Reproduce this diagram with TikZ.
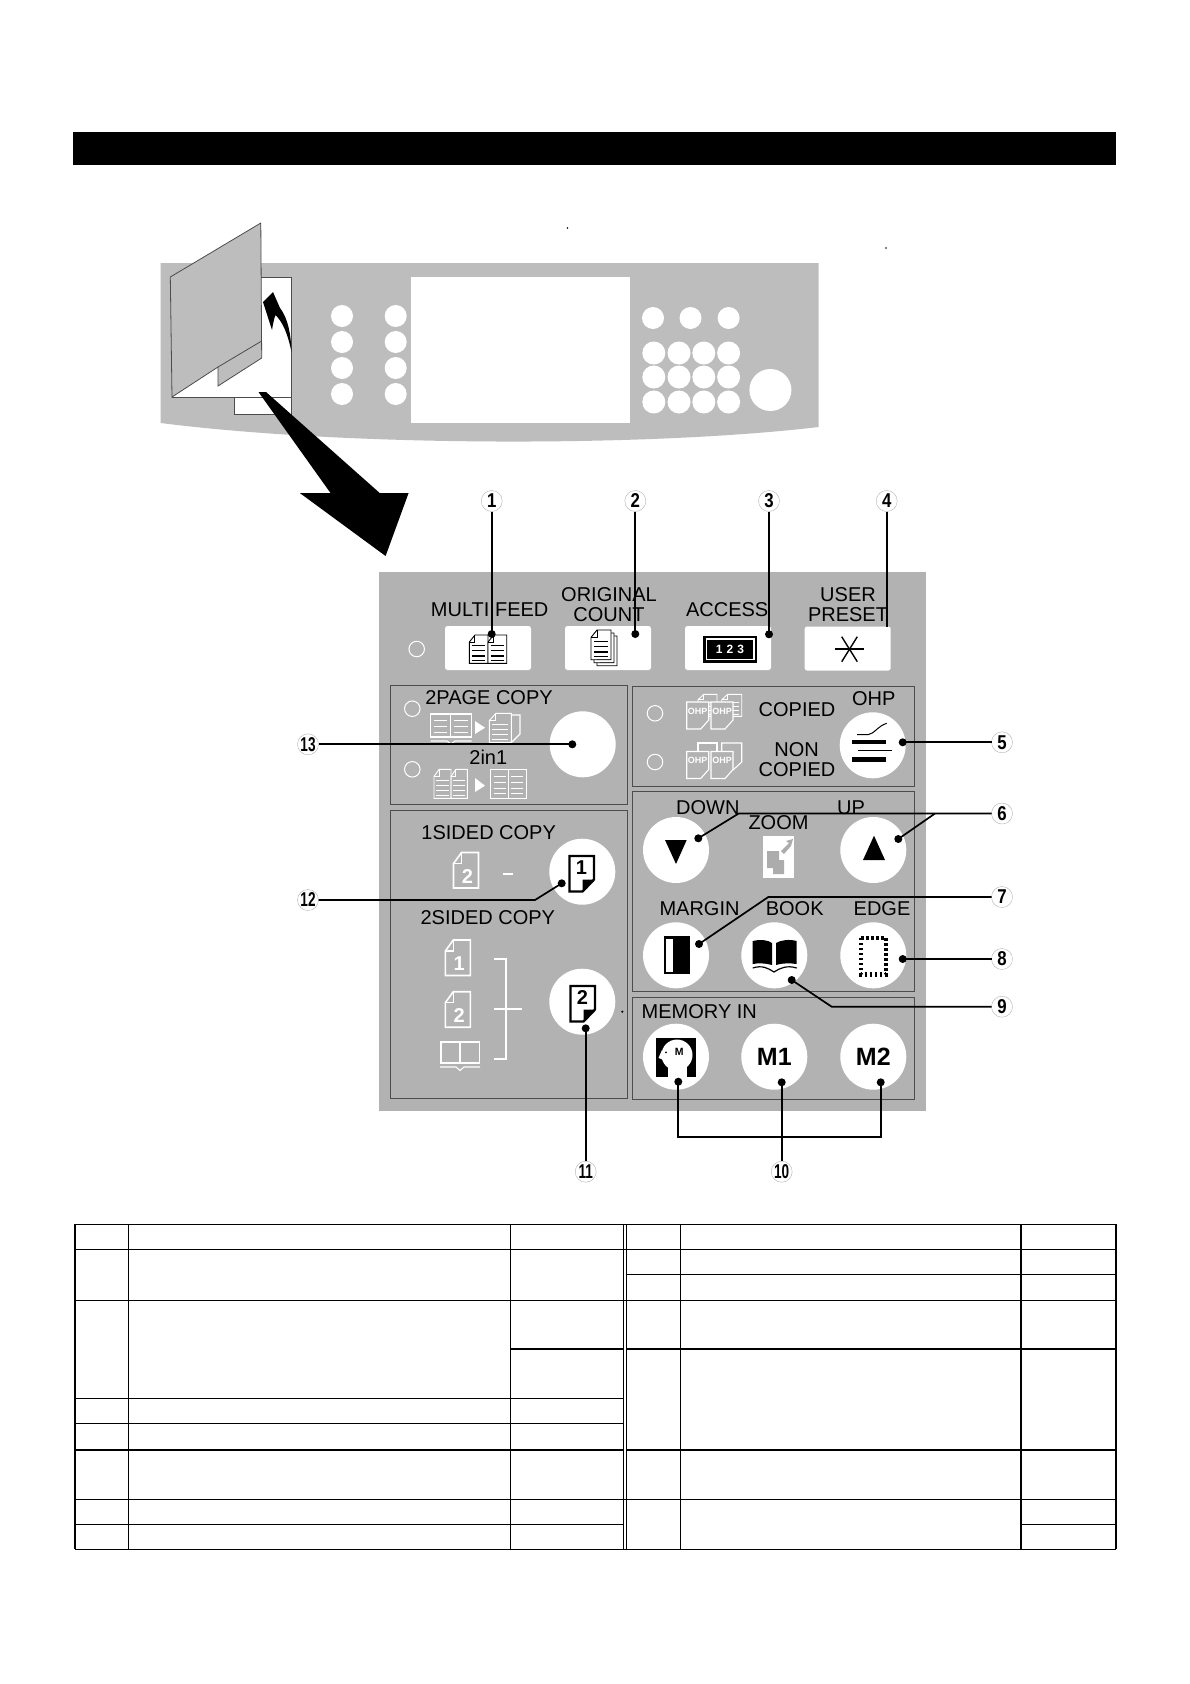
\documentclass[tikz,border=0pt]{standalone}
\usepackage{fontspec}
\setmainfont{Liberation Sans}
\usepackage{graphicx}
\usetikzlibrary{positioning}
\usetikzlibrary{shapes.geometric}
\definecolor{bandgray}{gray}{0.74}
\definecolor{panelgray}{gray}{0.70}
\definecolor{framegray}{gray}{0.30}
\newcommand{\squeezed}[1]{\scalebox{0.84}[1]{#1}}
\newcommand{\tightsqueezed}[1]{\scalebox{0.68}[1]{#1}}
\newcommand{\ruledsheet}[6]{
    \begin{scope}[shift={(#1,#2)}]
        \draw[#5, line width=0.9, fill=#6] (0.3*#3,0) -- (#3,0) -- (#3,#4) -- (0,#4) -- (0,0.25*#4) -- cycle;
        \draw[#5, line width=0.9] (0.3*#3,0) -- (0.3*#3,0.25*#4) -- (0,0.25*#4);
        \foreach \f in {0.38,0.56,0.74,0.9} {
            \draw[#5, line width=1.2] (0.14*#3,\f*#4) -- (0.86*#3,\f*#4);
        }
    \end{scope}
}
\newcommand{\numsheet}[4]{
    \begin{scope}[shift={(#2,#3)}]
        \draw[white, line width=1.6] (8,0) -- (25,0) -- (25,35.5) -- (0,35.5) -- (0,11) -- cycle;
        \draw[white, line width=1.2] (8,0) -- (8,11) -- (0,11);
        \node[sheetdigit, text=white] (#1) at (14,24) {#4};
    \end{scope}
}
\newcommand{\marksheet}[4]{
    \begin{scope}[shift={(#2,#3)}]
        \draw[black, line width=2.4, fill=white] (0,0) -- (24.5,0) -- (24.5,23.5) -- (13,35.5) -- (0,35.5) -- cycle;
        \fill[black] (24.5,23.5) -- (13,35.5) -- (13,23.5) -- cycle;
        \node[sheetdigit, text=black] (#1) at (12,12) {#4};
    \end{scope}
}
\newcommand{\ohpfront}[3]{
    \begin{scope}[shift={(#2,#3)}]
        \draw[white, line width=1.1, fill=panelgray] (0,0) -- (22,0) -- (22,18) -- (14,27) -- (0,27) -- cycle;
        \node[ohptext] (#1) at (11,9) {OHP};
    \end{scope}
}
\tikzset{
    holebtn/.style={ellipse, fill=white, inner sep=0, minimum width=22, minimum height=22},
    softkey/.style={fill=white, rounded corners=2.5, minimum width=86, minimum height=44, inner sep=0, outer sep=0},
    roundbtn/.style={circle, fill=white, minimum size=66, inner sep=0, outer sep=0},
    lamp/.style={circle, draw=white, line width=1, minimum size=15.5, inner sep=0},
    groupbox/.style={draw=framegray, line width=0.9},
    paneltext/.style={font=\fontsize{20}{20}\selectfont, inner sep=0, outer sep=0, anchor=base},
    sheetdigit/.style={font=\fontsize{20}{20}\selectfont\bfseries, inner sep=0},
    ohptext/.style={font=\fontsize{9}{9}\selectfont\bfseries, text=white, inner sep=0},
    memtext/.style={font=\fontsize{25}{25}\selectfont\bfseries, inner sep=0, outer sep=0},
    pindot/.style={circle, fill=black, minimum size=8, inner sep=0, outer sep=0},
    callout/.style={circle, draw=gray!60, line width=0.4, fill=white, minimum size=21, inner sep=0, outer sep=0, font=\fontsize{20}{20}\selectfont\bfseries},
    leader/.style={black, line width=1.7},
    ruling/.style={black, line width=1.1},
    heavyruling/.style={black, line width=2.2},
    thinruling/.style={black, line width=0.6}
}
\begin{document}
\begin{tikzpicture}[x=1pt, y=-1pt]
    \path[use as bounding box, fill=white] (0,0) rectangle (1190,1684);

    \fill[black] (73,132) rectangle (1116,165);

    \fill[bandgray] (160.7,263) -- (818.6,263) -- (818.6,427) .. controls (650,447) and (350,447) .. (160.7,423) -- cycle;
    \fill[white] (411,277) rectangle (630,422.7);
    \foreach \hx/\hn in {342/a,395.7/b} {
        \foreach \hy in {316,342,368,394} {
            \node[holebtn] (hole\hn\hy) at (\hx,\hy) {};
        }
    }
    \foreach \hx/\hn in {653/c,690.5/d,728.6/e} {
        \node[holebtn] (hole\hn) at (\hx,318) {};
    }
    \foreach \hx/\hn in {653.8/f,679/g,703.8/h,728.6/i} {
        \foreach \hy in {353,377,402} {
            \node[holebtn, minimum width=23, minimum height=23] (hole\hn\hy) at (\hx,\hy) {};
        }
    }
    \node[holebtn, minimum width=42, minimum height=42] (dial) at (770.4,390) {};

    \draw[framegray, line width=0.7, fill=white] (172,277) rectangle (291.5,397);
    \draw[framegray, line width=0.7, fill=white] (234,397) rectangle (291.5,414);
    \draw[framegray, line width=0.8, fill=bandgray] (170.3,277) -- (260.8,223) -- (261.7,358) -- (218,386) -- (218,367) -- (172,397) -- cycle;
    \draw[framegray, line width=0.8] (218,367) -- (261.7,341);
    \fill[black] (291.5,352) .. controls (291,335) and (288,318) .. (280,308) -- (273,292) -- (263,302) -- (272,330) .. controls (273,324) and (274,319) .. (275.4,315) .. controls (283,322) and (288,335) .. (291.5,352) -- cycle;
    \fill[black] (258.5,392) -- (266,392) -- (379.7,493) -- (408.6,493) -- (385.6,556) -- (299.8,493) -- (330.5,493) -- cycle;

    \fill[panelgray] (379,572) rectangle (926,1111);

    \node[lamp] (lampmulti) at (416.7,649) {};
    \node[softkey] (keymulti) at (488,648) {};
    \node[softkey] (keycount) at (608,648) {};
    \node[softkey] (keyaccess) at (728,648) {};
    \node[softkey] (keypreset) at (847.7,648.5) {};
    \node[paneltext] (txtmulti) at (489.7,616.7) {MULTI FEED};
    \node[paneltext] (txtorig) at (609,601) {ORIGINAL};
    \node[paneltext] (txtcount) at (609,621) {COUNT};
    \node[paneltext] (txtaccess) at (727.2,616.7) {ACCESS};
    \node[paneltext] (txtuser) at (848,601) {USER};
    \node[paneltext] (txtpreset) at (848,621) {PRESET};

    \ruledsheet{469.3}{635}{18.7}{28.3}{black}{white}
    \ruledsheet{488}{635}{18.7}{28.3}{black}{white}
    \ruledsheet{597}{636}{20}{29.7}{black}{white}
    \ruledsheet{594}{633}{20}{29.7}{black}{white}
    \ruledsheet{591}{630}{20}{29.7}{black}{white}
    \fill[black] (703.3,636) rectangle (757,662.7);
    \draw[white, line width=1.5] (706.5,639) rectangle (753.8,659.7);
    \node[font=\fontsize{12}{12}\selectfont\bfseries, text=white, inner sep=0] (txt123) at (730,649.5) {1\,\,2\,\,3};
    \draw[black, line width=1.4] (835,649) -- (864,649);
    \draw[black, line width=1.4] (841.7,636.7) -- (857.3,661.7);
    \draw[black, line width=1.4] (857.3,636.7) -- (841.7,661.7);

    \draw[groupbox] (390.7,685.3) rectangle (627.7,804.3);
    \draw[groupbox] (632.7,686) rectangle (914,786);
    \draw[groupbox] (632.7,791) rectangle (914,991.7);
    \draw[groupbox] (632.7,997.3) rectangle (914,1099);
    \draw[groupbox] (390.7,810) rectangle (627.3,1098.3);

    \node[paneltext] (txttwopage) at (489,704) {2PAGE COPY};
    \node[paneltext] (txttwoinone) at (488.3,764.3) {2in1};
    \node[lamp] (lamptwopage) at (412.3,708.7) {};
    \node[lamp] (lamptwoinone) at (412.3,769.3) {};
    \node[roundbtn] (btntwopage) at (582.7,744.3) {};

    \draw[white, line width=1.1] (430.7,714) rectangle (450.7,737);
    \draw[white, line width=1.1] (450.7,714) rectangle (471.7,737);
    \draw[white, line width=1.1] (430.7,741) -- (447,741) -- (451,744) -- (455,741) -- (471.7,741);
    \foreach \ry in {720,726,732} {
        \draw[white, line width=1] (434,\ry) -- (447,\ry);
        \draw[white, line width=1] (454,\ry) -- (468,\ry);
    }
    \fill[white] (475,721) -- (485,727.7) -- (475,734) -- cycle;
    \ruledsheet{489.3}{713.3}{22}{29}{white}{none}
    \draw[white, line width=1.1] (511.3,715) -- (520,715) -- (520,734) -- (512,742);
    \ruledsheet{434}{769.3}{17}{29}{white}{none}
    \ruledsheet{451}{769.3}{16.3}{29}{white}{none}
    \fill[white] (475,778) -- (485,785.7) -- (475,792) -- cycle;
    \draw[white, line width=1.1] (490.7,769.3) rectangle (526.7,798.3);
    \draw[white, line width=1.1] (508.7,769.3) -- (508.7,798.3);
    \foreach \ry in {776,782,788,793} {
        \draw[white, line width=1] (494,\ry) -- (506,\ry);
        \draw[white, line width=1] (511,\ry) -- (523,\ry);
    }

    \node[lamp] (lampcopied) at (655,713.3) {};
    \node[lamp] (lampnon) at (655,762) {};
    \ruledsheet{698}{694.3}{19}{22}{white}{none}
    \ruledsheet{721.7}{694.3}{20}{22}{white}{none}
    \ohpfront{ohpa}{686.7}{702}
    \ohpfront{ohpb}{711}{702}
    \draw[white, line width=1.1] (698,751) -- (698,743) -- (717,743) -- (717,760);
    \draw[white, line width=1.1] (721.7,751) -- (721.7,743) -- (741.7,743) -- (741.7,762) -- (733,770);
    \ohpfront{ohpc}{686.7}{751.5}
    \ohpfront{ohpd}{711}{751.5}
    \node[paneltext] (txtcopied) at (797,716.7) {COPIED};
    \node[paneltext] (txtnon) at (796.7,756.7) {NON};
    \node[paneltext] (txtnoncopied) at (797,776) {COPIED};
    \node[paneltext] (txtohp) at (873.8,705) {OHP};
    \node[roundbtn] (btnohp) at (872.7,745.3) {};
    \fill[black] (851.7,739.7) rectangle (886,743.7);
    \fill[black] (851.7,757) rectangle (886,761.5);
    \draw[black, line width=1] (858,750) -- (892,750);
    \draw[black, line width=1] (857,734.7) -- (868,734.7) .. controls (874,734) and (878,726) .. (886.7,723.3);

    \node[paneltext] (txtdown) at (707.8,814) {DOWN};
    \node[paneltext] (txtup) at (851,814) {UP};
    \node[paneltext] (txtzoom) at (778.5,829.3) {ZOOM};
    \node[roundbtn] (btndown) at (676,850) {};
    \node[roundbtn, right=131.3pt of btndown] (btnup) {};
    \fill[black] (665,840) -- (686.7,840) -- (676,864) -- cycle;
    \fill[black] (874,835.7) -- (885,860) -- (863,860) -- cycle;
    \fill[white] (763.3,836) rectangle (794.3,877.7);
    \fill[gray!65] (767,851) -- (779,851) -- (779,860) -- (784,860) -- (784,874) -- (773,874) -- (773,868) -- (767,868) -- cycle;
    \fill[gray!65] (781,851) -- (789,843) -- (786,841) -- (793,839) -- (791,846) -- (784,854) -- cycle;

    \node[paneltext] (txtmargin) at (699.5,915) {MARGIN};
    \node[paneltext] (txtbook) at (794.7,915) {BOOK};
    \node[paneltext] (txtedge) at (882,915) {EDGE};
    \node[roundbtn] (btnmargin) at (676,955.3) {};
    \node[roundbtn, right=32.3pt of btnmargin] (btnbook) {};
    \node[roundbtn, right=33pt of btnbook] (btnedge) {};
    \draw[black, line width=1, fill=black] (664,936.7) rectangle (689,973.3);
    \fill[white] (665.5,938.5) rectangle (672.7,971.5);
    \fill[black] (752.7,941) .. controls (760,939) and (768,940) .. (772,943) -- (772,965) .. controls (765,963) and (758,963) .. (752.7,964) -- cycle;
    \fill[black] (776,943) .. controls (781,940) and (789,939) .. (796.7,941) -- (796.7,964) .. controls (790,963) and (782,963) .. (776,965) -- cycle;
    \draw[black, line width=1.2] (752.7,968) .. controls (762,965) and (768,968) .. (774,972) .. controls (780,968) and (787,965) .. (796.7,968);
    \draw[black, line width=4.5, dash pattern=on 2.4pt off 2.6pt] (861.2,938) rectangle (886,974.5);

    \node[paneltext] (txtmemory) at (699.3,1018.3) {MEMORY IN};
    \node[roundbtn] (btnmem) at (676,1056.7) {};
    \node[roundbtn, right=32.3pt of btnmem] (btnmone) {};
    \node[roundbtn, right=33pt of btnmone] (btnmtwo) {};
    \fill[black] (656,1037.7) rectangle (696,1076.7);
    \fill[white] (677,1055) circle (15.5);
    \fill[white] (668,1062) rectangle (687,1078);
    \fill[white] (662,1050) -- (658.5,1058) -- (664,1060) -- cycle;
    \fill[black] (666,1052.3) circle (1);
    \node[font=\fontsize{10.5}{10.5}\selectfont\bfseries, inner sep=0] (txtmhead) at (679.3,1052) {M};
    \node[memtext] (txtmone) at (btnmone) {M1};
    \node[memtext] (txtmtwo) at (btnmtwo) {M2};

    \node[paneltext] (txtonesided) at (488.7,839.3) {1SIDED COPY};
    \node[paneltext] (txttwosided) at (487.8,924.3) {2SIDED COPY};
    \node[roundbtn] (btnonesided) at (582.3,871.7) {};
    \node[roundbtn, below=64pt of btnonesided] (btntwosided) {};
    \marksheet{digone}{569.5}{856}{1}
    \marksheet{digtwo}{570.5}{986}{2}
    \numsheet{sheettwotop}{453.5}{852.5}{2}
    \draw[white, line width=1.4] (503.3,874) -- (512.7,874);
    \numsheet{sheetone}{445.3}{940}{1}
    \numsheet{sheettwo}{445.3}{991.7}{2}
    \draw[white, line width=1.1] (441,1042) rectangle (460,1063);
    \draw[white, line width=1.1] (460,1042) rectangle (479.5,1063);
    \draw[white, line width=1.1] (440,1067) -- (456,1067) -- (460,1070.5) -- (464,1067) -- (480,1067);
    \draw[white, line width=1.7] (494.3,959.3) -- (506,959.3) -- (506,1059.3) -- (494.3,1059.3);
    \draw[white, line width=1.7] (494.3,1009.3) -- (521.7,1009.3);

    \fill[black] (622.3,1011.7) circle (1.2);
    \fill[black] (567.5,228) circle (0.9);
    \fill[black] (886,248) circle (0.9);

    \node[pindot] (dmulti) at (491.7,634) {};
    \node[pindot] (dcount) at (635.3,634) {};
    \node[pindot] (daccess) at (769,634.3) {};
    \node[pindot] (dohp) at (902.7,742.3) {};
    \node[pindot] (ddown) at (698.3,838.3) {};
    \node[pindot] (dup) at (898.3,839) {};
    \node[pindot] (dmargin) at (699,944) {};
    \node[pindot] (dedge) at (902.7,959) {};
    \node[pindot] (dbook) at (791.7,980) {};
    \node[pindot] (dmem) at (678.3,1081.7) {};
    \node[pindot] (dmone) at (781.7,1082.3) {};
    \node[pindot] (dmtwo) at (880.7,1082.3) {};
    \node[pindot] (dtwosided) at (585.7,1028.3) {};
    \node[pindot] (donesided) at (561.7,883.3) {};
    \node[pindot] (dtwopage) at (572.3,744.3) {};

    \coordinate (ftpreset) at (886.7,626.5);
    \coordinate (kneedown) at (738.7,813.5);
    \coordinate (kneeup) at (935,813.5);
    \coordinate (kneemargin) at (768.3,897);
    \coordinate (kneebook) at (831.7,1006.7);
    \coordinate (kneemem) at (678.3,1136.7);
    \coordinate (kneemtwo) at (880.7,1136.7);
    \coordinate (kneeonesided) at (535,900);

    \node[callout, above=118.5pt of dmulti] (cone) {\squeezed{1}};
    \node[callout, above=118.5pt of dcount] (ctwo) {\squeezed{2}};
    \node[callout, above=118.8pt of daccess] (cthree) {\squeezed{3}};
    \node[callout] (cfour) at (886.7,501) {\squeezed{4}};
    \node[callout, right=84.8pt of dohp] (cfive) {\squeezed{5}};
    \node[callout] (csix) at (1002,813.5) {\squeezed{6}};
    \node[callout] (cseven) at (1002,897) {\squeezed{7}};
    \node[callout, right=84.8pt of dedge] (ceight) {\squeezed{8}};
    \node[callout] (cnine) at (1002,1006.7) {\squeezed{9}};
    \node[callout, below=74.9pt of dmone] (cten) {\tightsqueezed{10}};
    \node[callout, below=128.9pt of dtwosided] (celeven) {\tightsqueezed{11}};
    \node[callout] (ctwelve) at (308,900) {\tightsqueezed{12}};
    \node[callout, left=249.8pt of dtwopage] (cthirteen) {\tightsqueezed{13}};

    \draw[leader] (cone) -- (dmulti.center);
    \draw[leader] (ctwo) -- (dcount.center);
    \draw[leader] (cthree) -- (daccess.center);
    \draw[leader] (cfour) -- (ftpreset);
    \draw[leader] (dohp.center) -- (cfive);
    \draw[leader] (ddown.center) -- (kneedown) -- (csix);
    \draw[leader] (dup.center) -- (kneeup);
    \draw[leader] (dmargin.center) -- (kneemargin) -- (cseven);
    \draw[leader] (dedge.center) -- (ceight);
    \draw[leader] (dbook.center) -- (kneebook) -- (cnine);
    \draw[leader] (dmem.center) -- (kneemem) -- (kneemtwo) -- (dmtwo.center);
    \draw[leader] (dmone.center) -- (cten);
    \draw[leader] (dtwosided.center) -- (celeven);
    \draw[leader] (donesided.center) -- (kneeonesided) -- (ctwelve);
    \draw[leader] (dtwopage.center) -- (cthirteen);

    \draw[ruling] (75,1224.3) -- (1116,1224.3);
    \draw[ruling] (75,1249.3) -- (1116,1249.3);
    \draw[ruling] (626,1274.3) -- (1116,1274.3);
    \draw[ruling] (75,1300.3) -- (1116,1300.3);
    \draw[heavyruling] (510.5,1348.7) -- (623,1348.7);
    \draw[heavyruling] (626,1348.7) -- (1116,1348.7);
    \draw[ruling] (75,1398.3) -- (623,1398.3);
    \draw[ruling] (75,1423.3) -- (623,1423.3);
    \draw[heavyruling] (75,1449.7) -- (623,1449.7);
    \draw[heavyruling] (626,1449.7) -- (1116,1449.7);
    \draw[ruling] (75,1499.3) -- (1116,1499.3);
    \draw[ruling] (75,1524.3) -- (623,1524.3);
    \draw[ruling] (1021,1524.3) -- (1116,1524.3);
    \draw[ruling] (75,1549.3) -- (1116,1549.3);
    \draw[ruling] (75,1224.3) -- (75,1549.3);
    \draw[heavyruling, line width=1.5] (128.3,1224.3) -- (128.3,1549.3);
    \draw[ruling] (510.5,1224.3) -- (510.5,1549.3);
    \draw[thinruling] (623,1224.3) -- (623,1549.3);
    \draw[thinruling] (626,1224.3) -- (626,1549.3);
    \draw[thinruling] (680.5,1224.3) -- (680.5,1549.3);
    \draw[heavyruling, line width=1.5] (1021,1224.3) -- (1021,1549.3);
    \draw[ruling] (1116,1224.3) -- (1116,1549.3);
\end{tikzpicture}
\end{document}
